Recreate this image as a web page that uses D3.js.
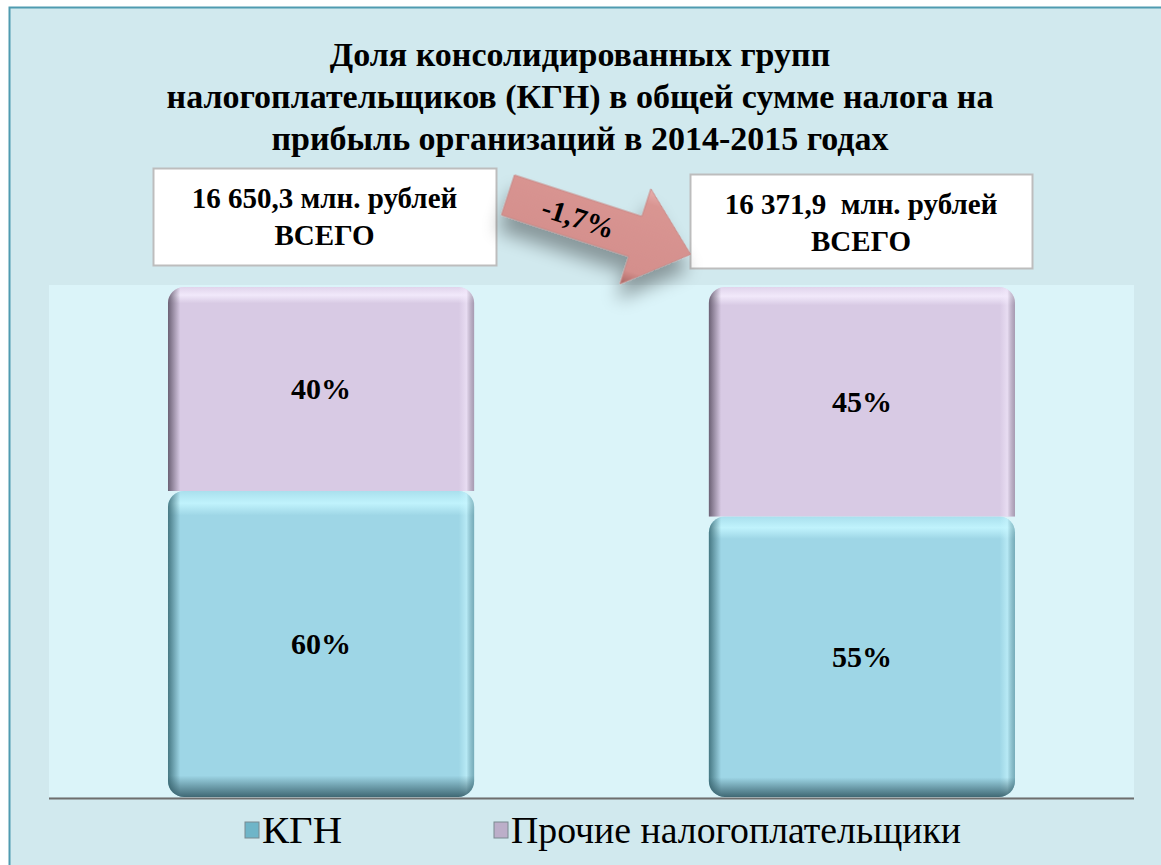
<!DOCTYPE html>
<html>
<head>
<meta charset="utf-8">
<script src="https://cdn.jsdelivr.net/npm/d3@7"></script>
</head>
<body style="margin:0">
<script>
// data
var years = ["2014", "2015"];
var kgn = [60, 55];
var other = [40, 45];
var totals = ["16 650,3 млн. рублей", "16 371,9  млн. рублей"];
var change = "-1,7%";
var seriesNames = ["КГН", "Прочие налогоплательщики"];
var titleLines = ["Доля консолидированных групп",
                  "налогоплательщиков (КГН) в общей сумме налога на",
                  "прибыль организаций в 2014-2015 годах"];

var width = 1161, height = 865;
var plot = {left: 49, right: 1134, top: 287, bottom: 797};
var fontName = "Liberation Serif";
function serifFont() { return "'" + fontName + "'"; }

var svg = d3.select("body").append("svg")
    .attr("width", width)
    .attr("height", height)
    .style("display", "block");

var defs = svg.append("defs");

// gradients for the bevelled bars
function bevel(id, dark, light) {
    var g = defs.append("linearGradient").attr("id", id)
        .attr("x1", 0).attr("x2", 1).attr("y1", 0).attr("y2", 0);
    g.append("stop").attr("offset", "0%").attr("stop-color", dark).attr("stop-opacity", 0.9);
    g.append("stop").attr("offset", "4%").attr("stop-color", dark).attr("stop-opacity", 0);
    g.append("stop").attr("offset", "95%").attr("stop-color", light).attr("stop-opacity", 0);
    g.append("stop").attr("offset", "97.5%").attr("stop-color", light).attr("stop-opacity", 0.6);
    g.append("stop").attr("offset", "100%").attr("stop-color", dark).attr("stop-opacity", 0.4);
}
bevel("bevBlue", "#3c6d78", "#c8f6ff");
bevel("bevPurple", "#5f5568", "#f2e8fb");

function topShine(id, light) {
    var g = defs.append("linearGradient").attr("id", id)
        .attr("x1", 0).attr("x2", 0).attr("y1", 0).attr("y2", 1);
    g.append("stop").attr("offset", "0%").attr("stop-color", light).attr("stop-opacity", 0.3);
    g.append("stop").attr("offset", "4%").attr("stop-color", light).attr("stop-opacity", 0.9);
    g.append("stop").attr("offset", "8%").attr("stop-color", light).attr("stop-opacity", 0);
    g.append("stop").attr("offset", "100%").attr("stop-color", light).attr("stop-opacity", 0);
}
topShine("shineBlue", "#c4f6ff");
topShine("shinePurple", "#f4ecfd");

var bottomShade = defs.append("linearGradient").attr("id", "shadeBottom")
    .attr("x1", 0).attr("x2", 0).attr("y1", 0).attr("y2", 1);
bottomShade.append("stop").attr("offset", "0%").attr("stop-color", "#2f5560").attr("stop-opacity", 0);
bottomShade.append("stop").attr("offset", "93%").attr("stop-color", "#2f5560").attr("stop-opacity", 0);
bottomShade.append("stop").attr("offset", "100%").attr("stop-color", "#2f5560").attr("stop-opacity", 0.85);

var arrowGrad = defs.append("linearGradient").attr("id", "arrowGrad")
    .attr("x1", 0).attr("x2", 0).attr("y1", 0).attr("y2", 1);
arrowGrad.append("stop").attr("offset", "0%").attr("stop-color", "#e8b0ae");
arrowGrad.append("stop").attr("offset", "15%").attr("stop-color", "#d99592");
arrowGrad.append("stop").attr("offset", "85%").attr("stop-color", "#d48f8c");
arrowGrad.append("stop").attr("offset", "100%").attr("stop-color", "#a86562");

var shadow = defs.append("filter").attr("id", "shadow")
    .attr("x", "-30%").attr("y", "-30%").attr("width", "160%").attr("height", "180%");
shadow.append("feGaussianBlur").attr("in", "SourceAlpha").attr("stdDeviation", 9);
shadow.append("feOffset").attr("dx", 2).attr("dy", 16).attr("result", "b");
shadow.append("feComponentTransfer").append("feFuncA").attr("type", "linear").attr("slope", 0.35);
var merge = shadow.append("feMerge");
merge.append("feMergeNode");
merge.append("feMergeNode").attr("in", "SourceGraphic");

// frame
svg.append("rect")
    .attr("x", 9.5).attr("y", 7.5)
    .attr("width", width).attr("height", height)
    .attr("fill", "#d1e9ee")
    .attr("stroke", "#4f9bb0")
    .attr("stroke-width", 2);

// plot area
svg.append("rect")
    .attr("x", plot.left).attr("y", plot.top - 2)
    .attr("width", plot.right - plot.left)
    .attr("height", plot.bottom - plot.top + 2)
    .attr("fill", "#dbf4f9");

// title
svg.append("g").selectAll("text")
    .data(titleLines).enter()
    .append("text")
    .attr("x", 580)
    .attr("y", function (d, i) { return 66 + i * 42; })
    .attr("text-anchor", "middle")
    .style("font-family", serifFont)
    .attr("font-size", 34)
    .attr("font-weight", "bold")
    .text(function (d) { return d; });

var x = d3.scaleBand()
    .domain(years)
    .range([plot.left, plot.right])
    .paddingInner(0.434)
    .paddingOuter(0.22);

var y = d3.scaleLinear()
    .domain([0, 100])
    .range([plot.bottom, plot.top]);

// rounded-top path, optional rounded bottom
function segPath(x0, y0, w, h, r, roundBottom) {
    var p = d3.path();
    p.moveTo(x0, y0 + r);
    p.arcTo(x0, y0, x0 + r, y0, r);
    p.lineTo(x0 + w - r, y0);
    p.arcTo(x0 + w, y0, x0 + w, y0 + r, r);
    if (roundBottom) {
        p.lineTo(x0 + w, y0 + h - r);
        p.arcTo(x0 + w, y0 + h, x0 + w - r, y0 + h, r);
        p.lineTo(x0 + r, y0 + h);
        p.arcTo(x0, y0 + h, x0, y0 + h - r, r);
    } else {
        p.lineTo(x0 + w, y0 + h);
        p.lineTo(x0, y0 + h);
    }
    p.closePath();
    return p.toString();
}

var stacked = years.map(function (yr, i) {
    return [
        {year: yr, y0: 0, y1: kgn[i], name: "kgn", label: kgn[i] + "%"},
        {year: yr, y0: kgn[i], y1: kgn[i] + other[i], name: "other", label: other[i] + "%"}
    ];
});
var segs = d3.merge(stacked);

var fills = {kgn: "#9ed6e6", other: "#d8cae4"};
var bevels = {kgn: "url(#bevBlue)", other: "url(#bevPurple)"};
var shines = {kgn: "url(#shineBlue)", other: "url(#shinePurple)"};

var bars = svg.append("g").attr("class", "bars");

function dPath(d) {
    return segPath(x(d.year), y(d.y1), x.bandwidth(), y(d.y0) - y(d.y1), 16, d.name === "kgn");
}

bars.selectAll("path.base").data(segs).enter()
    .append("path").attr("class", "base")
    .attr("d", dPath)
    .attr("fill", function (d) { return fills[d.name]; });

bars.selectAll("path.shine").data(segs).enter()
    .append("path").attr("class", "shine")
    .attr("d", dPath)
    .attr("fill", function (d) { return shines[d.name]; });

bars.selectAll("path.bevel").data(segs).enter()
    .append("path").attr("class", "bevel")
    .attr("d", dPath)
    .attr("fill", function (d) { return bevels[d.name]; });

bars.selectAll("path.shade").data(segs.filter(function (d) { return d.name === "kgn"; })).enter()
    .append("path").attr("class", "shade")
    .attr("d", dPath)
    .attr("fill", "url(#shadeBottom)");

bars.selectAll("text").data(segs).enter()
    .append("text")
    .attr("x", function (d) { return x(d.year) + x.bandwidth() / 2; })
    .attr("y", function (d) { return (y(d.y0) + y(d.y1)) / 2 + 10; })
    .attr("text-anchor", "middle")
    .style("font-family", serifFont)
    .attr("font-size", 30)
    .attr("font-weight", "bold")
    .text(function (d) { return d.label; });

// axis line
svg.append("line")
    .attr("x1", plot.left).attr("x2", plot.right)
    .attr("y1", plot.bottom + 1.5).attr("y2", plot.bottom + 1.5)
    .attr("stroke", "#6e6e6e")
    .attr("stroke-width", 2);

// total boxes
var boxes = [{x: 153, y: 168, w: 343, h: 97}, {x: 690, y: 174, w: 342, h: 94}];
var boxG = svg.append("g").selectAll("g")
    .data(totals).enter()
    .append("g");
boxG.append("rect")
    .attr("x", function (d, i) { return boxes[i].x + 0.5; })
    .attr("y", function (d, i) { return boxes[i].y + 0.5; })
    .attr("width", function (d, i) { return boxes[i].w; })
    .attr("height", function (d, i) { return boxes[i].h; })
    .attr("fill", "#fff")
    .attr("stroke", "#bdbdbd")
    .attr("stroke-width", 2);
boxG.append("text")
    .attr("x", function (d, i) { return boxes[i].x + boxes[i].w / 2; })
    .attr("y", function (d, i) { return boxes[i].y + 40; })
    .attr("text-anchor", "middle")
    .style("font-family", serifFont)
    .attr("font-size", 29)
    .attr("font-weight", "bold")
    .style("white-space", "pre")
    .text(function (d) { return d; });
boxG.append("text")
    .attr("x", function (d, i) { return boxes[i].x + boxes[i].w / 2; })
    .attr("y", function (d, i) { return boxes[i].y + 77; })
    .attr("text-anchor", "middle")
    .style("font-family", serifFont)
    .attr("font-size", 29)
    .attr("font-weight", "bold")
    .text("ВСЕГО");

// change arrow
var arrow = svg.append("g")
    .attr("transform", "translate(508,195) rotate(18)");
var len = 192, bodyH = 21, headH = 50, headL = 58;
arrow.append("path")
    .attr("d", d3.line()([[0, -bodyH], [len - headL, -bodyH], [len - headL, -headH], [len, 0],
        [len - headL, headH], [len - headL, bodyH], [0, bodyH]]) + "Z")
    .attr("fill", "url(#arrowGrad)")
    .attr("stroke", "#c98885")
    .attr("stroke-width", 1)
    .attr("filter", "url(#shadow)");
arrow.append("text")
    .attr("x", 74).attr("y", 10)
    .attr("text-anchor", "middle")
    .style("font-family", serifFont)
    .attr("font-size", 29)
    .attr("font-weight", "bold")
    .text(change);

// legend
var legendX = [245, 494];
var legendColors = ["#6fb5c8", "#bcaec9"];
var leg = svg.append("g").selectAll("g")
    .data(seriesNames).enter()
    .append("g")
    .attr("transform", function (d, i) { return "translate(" + legendX[i] + ",822)"; });
leg.append("rect")
    .attr("width", 14).attr("height", 16)
    .attr("fill", function (d, i) { return legendColors[i]; })
    .attr("stroke", "#7a8a90")
    .attr("stroke-width", 1);
leg.append("text")
    .attr("x", 17).attr("y", 21)
    .style("font-family", serifFont)
    .attr("font-size", 38)
    .attr("textLength", function (d, i) { return i === 0 ? 80 : 450; })
    .attr("lengthAdjust", "spacingAndGlyphs")
    .text(function (d) { return d; });
</script>
</body>
</html>
